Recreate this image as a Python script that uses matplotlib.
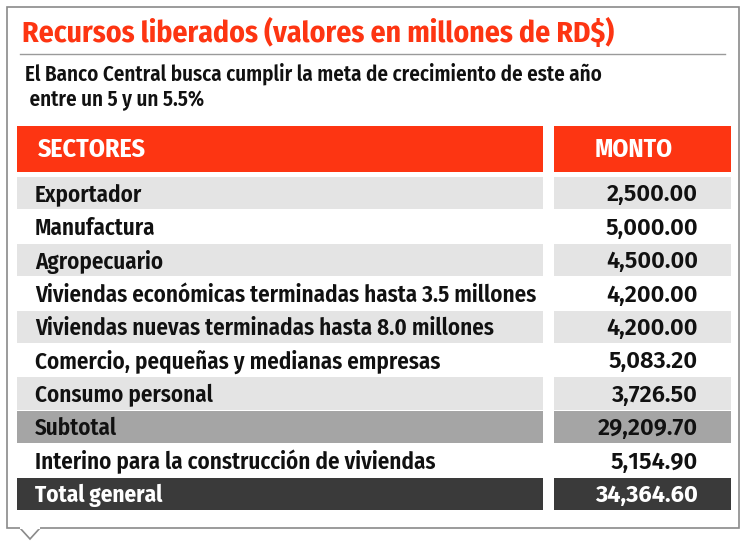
import matplotlib.pyplot as plt
from matplotlib.patches import Rectangle, Polygon

# table contents
title = "Recursos liberados (valores en millones de RD$)"
subtitle = ["El Banco Central busca cumplir la meta de crecimiento de este año",
            " entre un 5 y un 5.5%"]
headers = ["SECTORES", "MONTO"]
sectores = ["Exportador", "Manufactura", "Agropecuario",
            "Viviendas económicas terminadas hasta 3.5 millones",
            "Viviendas nuevas terminadas hasta 8.0 millones",
            "Comercio, pequeñas y medianas empresas",
            "Consumo personal", "Subtotal",
            "Interino para la construcción de viviendas", "Total general"]
montos = [2500.00, 5000.00, 4500.00, 4200.00, 4200.00, 5083.20,
          3726.50, 29209.70, 5154.90, 34364.60]
row_kind = ["light", "white", "light", "white", "light", "white",
            "light", "sub", "white", "total"]

RED = "#fd3512"
fills = {"light": "#e4e4e4", "white": "#ffffff", "sub": "#a5a5a5", "total": "#3a3a3a"}
FONT = ["Fira Sans Condensed", "DejaVu Sans"]
NUMFONT = ["Fira Sans", "DejaVu Sans"]

fig = plt.figure(figsize=(7.46, 5.42), dpi=100)
ax = fig.add_axes([0, 0, 1, 1])
ax.set_xlim(0, 746)
ax.set_ylim(542, 0)
ax.axis("off")

# outer box with little pointer at the bottom left
ax.add_patch(Rectangle((7, 7), 732, 521, fill=False, ec="#8a8a8a", lw=1.2))
ax.add_patch(Polygon([(20, 528), (30, 539), (40, 528)], closed=False,
                     fill=True, fc="white", ec="#8a8a8a", lw=1.2))
ax.plot([21, 39], [528, 528], color="white", lw=1.5)

ax.text(22, 33, title, color=RED, fontsize=21.3, fontweight="bold",
        family=FONT, va="center", ha="left")
ax.plot([20, 725], [53.5, 53.5], color="#9a9a9a", lw=1)
ax.text(25, 74, subtitle[0], fontsize=15.1, fontweight="semibold",
        family=FONT, va="center", ha="left", color="#111111")
ax.text(25, 100, subtitle[1], fontsize=15.1, fontweight="semibold",
        family=FONT, va="center", ha="left", color="#111111")

x1, w1 = 17, 526
x2, w2 = 554, 177

# header
ax.add_patch(Rectangle((x1, 126), w1, 46, fc=RED, ec="none"))
ax.add_patch(Rectangle((x2, 126), w2, 46, fc=RED, ec="none"))
ax.text(38, 150, headers[0], color="white", fontsize=18.6, fontweight="bold",
        family=FONT, va="center", ha="left")
ax.text(634, 150, headers[1], color="white", fontsize=18.4, fontweight="bold",
        family=FONT, va="center", ha="center")

top = 176.5
h = 33.4
for i, (s, m, k) in enumerate(zip(sectores, montos, row_kind)):
    y = top + i * h
    if k != "white":
        ax.add_patch(Rectangle((x1, y + 0.5), w1, h - 1, fc=fills[k], ec="none"))
        ax.add_patch(Rectangle((x2, y + 0.5), w2, h - 1, fc=fills[k], ec="none"))
    col = "white" if k == "total" else "#111111"
    wt = "bold" if k == "total" else "semibold"
    ax.text(35, y + h / 2 + 1.5, s, color=col, fontsize=16.6, fontweight=wt,
            family=FONT, va="center", ha="left")
    ax.text(698, y + h / 2 + 1.5, f"{m:,.2f}", color=col, fontsize=17,
            fontweight=wt, family=NUMFONT, va="center", ha="right")

fig.savefig("out.png", dpi=100)
